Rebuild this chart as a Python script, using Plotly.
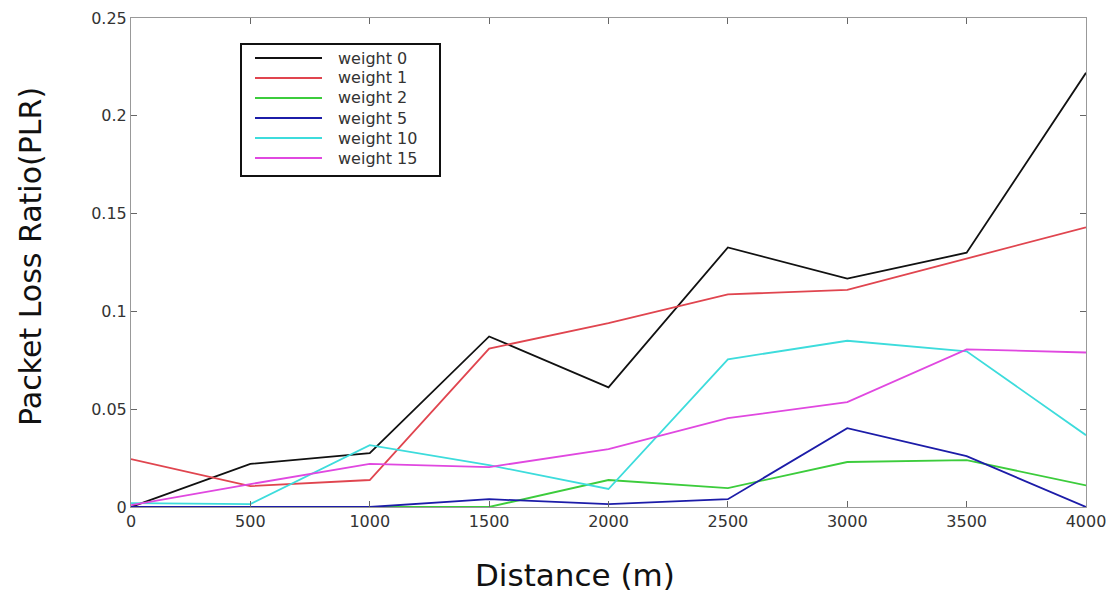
import plotly.graph_objects as go

distance = [0, 500, 1000, 1500, 2000, 2500, 3000, 3500, 4000]
weight_0 = [0.0, 0.022, 0.0275, 0.0872, 0.0612, 0.1327, 0.1168, 0.1300, 0.2220]
weight_1 = [0.0245, 0.0107, 0.0138, 0.0810, 0.0940, 0.1087, 0.1110, 0.1270, 0.1430]
weight_2 = [0.0, 0.0, 0.0, 0.0, 0.0138, 0.0097, 0.0230, 0.0240, 0.0110]
weight_5 = [0.0, 0.0, 0.0, 0.0040, 0.0015, 0.0040, 0.0403, 0.0260, 0.0]
weight_10 = [0.002, 0.0015, 0.0316, 0.0214, 0.0092, 0.0755, 0.0850, 0.0796, 0.0367]
weight_15 = [0.001, 0.0117, 0.0220, 0.0204, 0.0296, 0.0454, 0.0536, 0.0806, 0.0790]

series_names = ["weight 0", "weight 1", "weight 2", "weight 5", "weight 10", "weight 15"]
series_values = [weight_0, weight_1, weight_2, weight_5, weight_10, weight_15]
series_colors = ["#111111", "#e0454f", "#3ccc3c", "#1c1ca8", "#3ddcdc", "#e048e0"]

x_ticks = [0, 500, 1000, 1500, 2000, 2500, 3000, 3500, 4000]
y_ticks = [0, 0.05, 0.1, 0.15, 0.2, 0.25]
y_tick_labels = ["0", "0.05", "0.1", "0.15", "0.2", "0.25"]

W, H = 1107, 592
ML, MR, MT, MB = 131, 21, 18, 85
PW, PH = W - ML - MR, H - MT - MB


def px_x(px):
    return (px - ML) / PW


def px_y(py):
    return (H - MB - py) / PH


fig = go.Figure()
for name, vals, color in zip(series_names, series_values, series_colors):
    fig.add_trace(go.Scatter(x=distance, y=vals, mode="lines", name=name,
                             line=dict(color=color, width=1.8), showlegend=False))

font_family = "DejaVu Sans"

# custom legend box (matches the reference's long sample lines)
shapes = [dict(type="rect", xref="paper", yref="paper",
               x0=px_x(241), x1=px_x(440), y0=px_y(176), y1=px_y(44),
               line=dict(color="#111111", width=2), fillcolor="white", layer="above")]
annotations = []
row_y = [58, 78, 98, 118, 138, 158]
for name, color, ry in zip(series_names, series_colors, row_y):
    shapes.append(dict(type="line", xref="paper", yref="paper",
                       x0=px_x(255), x1=px_x(322), y0=px_y(ry), y1=px_y(ry),
                       line=dict(color=color, width=2.2), layer="above"))
    annotations.append(dict(text=name, xref="paper", yref="paper",
                            x=px_x(336), y=px_y(ry), xanchor="left", yanchor="middle",
                            showarrow=False,
                            font=dict(family=font_family, size=16, color="#333333")))

annotations += [
    dict(text="Distance (m)", xref="paper", yref="paper", x=px_x(575), y=px_y(575),
         xanchor="center", yanchor="middle", showarrow=False,
         font=dict(family=font_family, size=31, color="#111111")),
    dict(text="Packet Loss Ratio(PLR)", xref="paper", yref="paper", x=px_x(30), y=px_y(257),
         xanchor="center", yanchor="middle", showarrow=False, textangle=-90,
         font=dict(family=font_family, size=30, color="#111111")),
]

fig.update_layout(
    width=W, height=H,
    margin=dict(l=ML, r=MR, t=MT, b=MB),
    paper_bgcolor="white", plot_bgcolor="white",
    font=dict(family=font_family, color="#333333", size=16),
    showlegend=False,
    xaxis=dict(range=[0, 4000], tickvals=x_ticks, showgrid=False, zeroline=False,
               showline=True, linecolor="#999999", linewidth=1, mirror="ticks",
               ticks="inside", ticklen=6, tickcolor="#666666", automargin=False,
               tickfont=dict(family=font_family, size=16, color="#333333")),
    yaxis=dict(range=[0, 0.25], tickvals=y_ticks, ticktext=y_tick_labels,
               showgrid=False, zeroline=False,
               showline=True, linecolor="#999999", linewidth=1, mirror="ticks",
               ticks="inside", ticklen=6, tickcolor="#666666", automargin=False,
               tickfont=dict(family=font_family, size=16, color="#333333")),
    shapes=shapes,
    annotations=annotations,
)

fig.write_html("out.html")
